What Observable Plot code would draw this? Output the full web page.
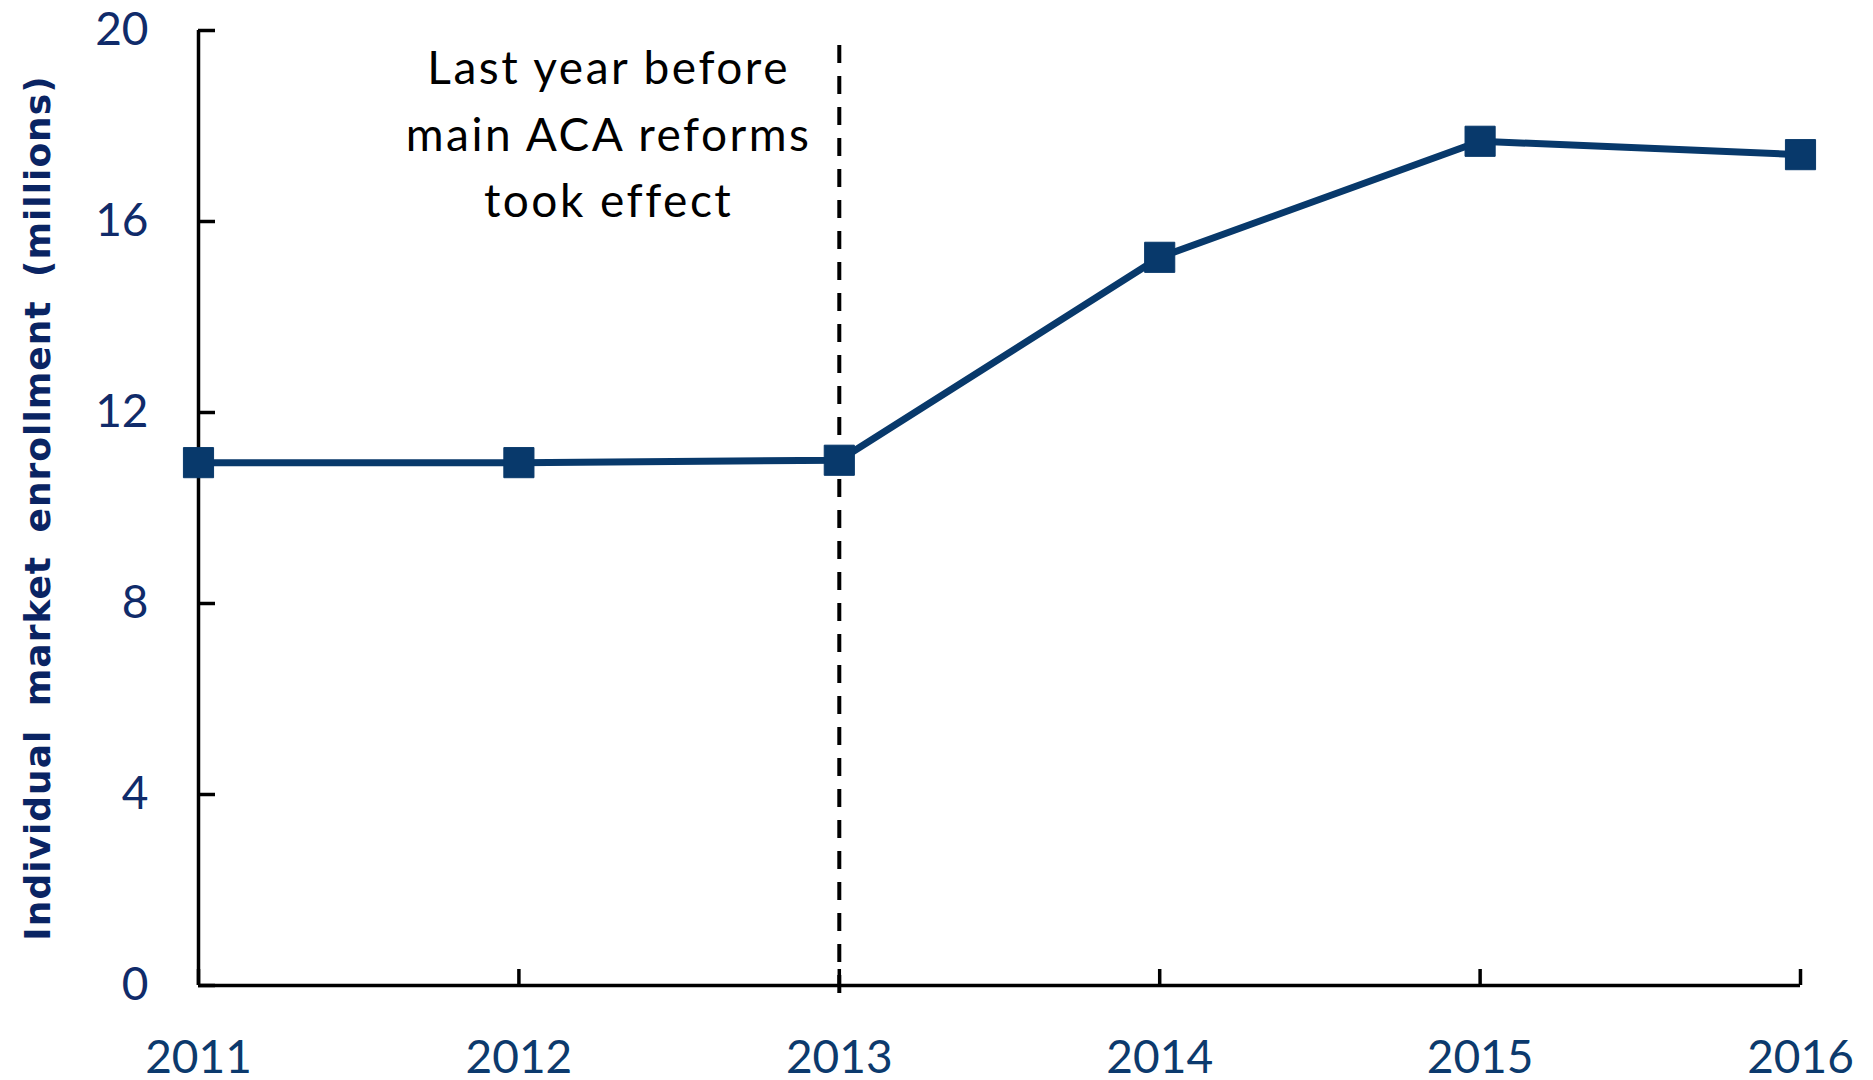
<!DOCTYPE html>
<html>
<head>
<meta charset="utf-8">
<script src="https://cdn.jsdelivr.net/npm/d3@7"></script>
<script src="https://cdn.jsdelivr.net/npm/@observablehq/plot@0.6"></script>
<style>
  html, body { margin: 0; padding: 0; background: #ffffff; }
</style>
</head>
<body>
<div id="chart"></div>
<script>
// ---- data ----
const years = [2011, 2012, 2013, 2014, 2015, 2016];
const enrollment = [10.95, 10.95, 11.0, 15.25, 17.68, 17.4];
const yTicks = [0, 4, 8, 12, 16, 20];
const reformYear = [2013];
const annotationText = "Last year before\nmain ACA reforms\ntook effect";
const annotationYear = 2012.28;
const annotationValue = 17.93;
const yTitle = "Individual market enrollment (millions)";

const data = years.map((year, i) => ({year, value: enrollment[i]}));

const navy = "#08396b";

const chart = Plot.plot({
  width: 1873,
  height: 1080,
  marginLeft: 198,
  marginRight: 73,
  marginTop: 30,
  marginBottom: 95,
  style: {fontFamily: "Lato", background: "white", overflow: "visible"},
  x: {domain: [2011, 2016]},
  y: {domain: [0, 20]},
  marks: [
    Plot.axisY({ticks: yTicks, tickSize: 0, tickPadding: 50, fontSize: 46, fill: "#102b6a", label: null, tickFormat: d => String(d)}),
    Plot.axisX({ticks: years, tickSize: 0, tickPadding: 55, fontSize: 46, fill: "#0c3a6d", label: null, tickFormat: d => String(d)}),
    // axis lines
    Plot.ruleX([years[0]], {x: d => d, y1: 0, y2: 20, stroke: "black", strokeWidth: 3.5}),
    Plot.ruleY([0], {y: d => d, x1: years[0], x2: years[years.length - 1], stroke: "black", strokeWidth: 3.5}),
    // inward ticks
    Plot.ruleY(yTicks, {y: d => d, x1: years[0], x2: years[0], insetRight: -17, stroke: "black", strokeWidth: 3.5}),
    Plot.ruleX(years, {x: d => d, y1: 0, y2: 0, insetBottom: 16, stroke: "black", strokeWidth: 3.5}),
    // dashed reform line
    Plot.ruleX(reformYear, {x: d => d, y1: -0.17, y2: 19.73, stroke: "black", strokeWidth: 4, strokeDasharray: "18,13"}),
    // series
    Plot.line(data, {x: "year", y: "value", stroke: navy, strokeWidth: 7}),
    Plot.dot(data, {x: "year", y: "value", symbol: "square", r: 17, fill: navy, stroke: navy, strokeWidth: 1, strokeLinejoin: "round"}),
    // annotation
    Plot.text([annotationText], {x: () => annotationYear, y: () => annotationValue, text: d => d, fontSize: 46, lineHeight: 1.445, fill: "black", textAnchor: "middle", lineAnchor: "middle"}),
    // y title
    Plot.text([yTitle], {frameAnchor: "left", text: d => d, rotate: -90, dx: -160, fontSize: 36, fontWeight: "bold", fontFamily: "DejaVu Sans", fill: "#0a2463", textAnchor: "middle", lineAnchor: "middle"})
  ]
});

// text spacing (applied directly to the rendered text nodes)
d3.select(chart).selectAll("text")
  .filter(function () { return this.textContent === yTitle; })
  .style("letter-spacing", "1px")
  .style("word-spacing", "10px");
d3.select(chart).selectAll("text")
  .filter(function () { return this.textContent.includes("Last year"); })
  .style("letter-spacing", "2.5px");

document.getElementById("chart").appendChild(chart);
</script>
</body>
</html>
